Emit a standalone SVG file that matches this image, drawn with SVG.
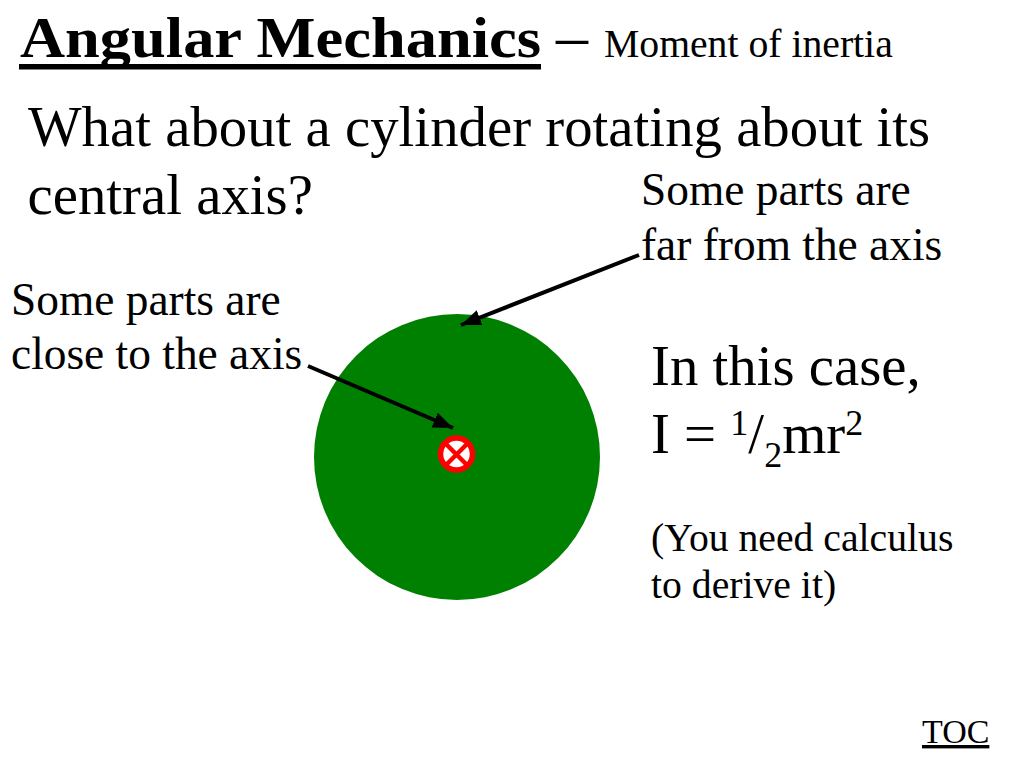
<svg xmlns="http://www.w3.org/2000/svg" width="1024" height="768" viewBox="0 0 1024 768">
<defs><marker id="ah" markerUnits="userSpaceOnUse" markerWidth="22" markerHeight="16" refX="20" refY="8" orient="auto"><path d="M0 0L20 8L0 16Z" fill="#000"/></marker></defs>
<style>text{font-family:"Liberation Serif","Times New Roman",serif;fill:#000}.l{font-size:45.4px}.m{font-size:56.800px}.s{font-size:39.700px}</style>
<rect width="1024" height="768" fill="#fff"/>
<g id="title"><text x="20" y="57" font-size="56.800" font-weight="bold" textLength="521" lengthAdjust="spacingAndGlyphs">Angular Mechanics</text><rect x="19" y="64" width="522" height="5.500" fill="#000"/><text x="556" y="57" font-size="64">–</text><text x="604" y="57" font-size="39.700">Moment of inertia</text></g>
<g id="question"><text x="28" y="146" class="m">What about a cylinder rotating about its</text><text x="27.500" y="214" class="m">central axis?</text></g>
<g id="cylinder"><circle cx="457" cy="457" r="143" fill="#008000"/></g>
<g id="axis"><circle cx="456.500" cy="454" r="16" fill="#fff" stroke="#f00" stroke-width="5.500"/><path d="M446 444L467 465M467 444L446 465" stroke="#f00" stroke-width="4.500"/></g>
<g id="far-label"><text x="641" y="205" class="l">Some parts are</text><text x="641" y="260" class="l">far from the axis</text></g>
<g id="close-label"><text x="11" y="315" class="l">Some parts are</text><text x="11" y="369" class="l">close to the axis</text></g>
<g id="formula"><text x="651" y="385" font-size="56.800">In this case,</text><text x="651" y="453" font-size="56.800">I = <tspan font-size="36" dy="-18">1</tspan><tspan dy="18">/</tspan><tspan font-size="36" dy="14">2</tspan><tspan dy="-14">mr</tspan><tspan font-size="36" dy="-18">2</tspan></text></g>
<g id="note"><text x="651" y="551" class="s">(You need calculus</text><text x="651" y="598" class="s">to derive it)</text></g>
<g id="toc"><text x="922" y="743" font-size="34" text-decoration="underline" style="text-decoration-skip-ink:none">TOC</text></g>
<g id="connectors" fill="none" stroke="#000" stroke-width="4"><line x1="639" y1="255" x2="461" y2="325" marker-end="url(#ah)"/><line x1="308" y1="366" x2="453" y2="428" marker-end="url(#ah)"/></g>
</svg>
